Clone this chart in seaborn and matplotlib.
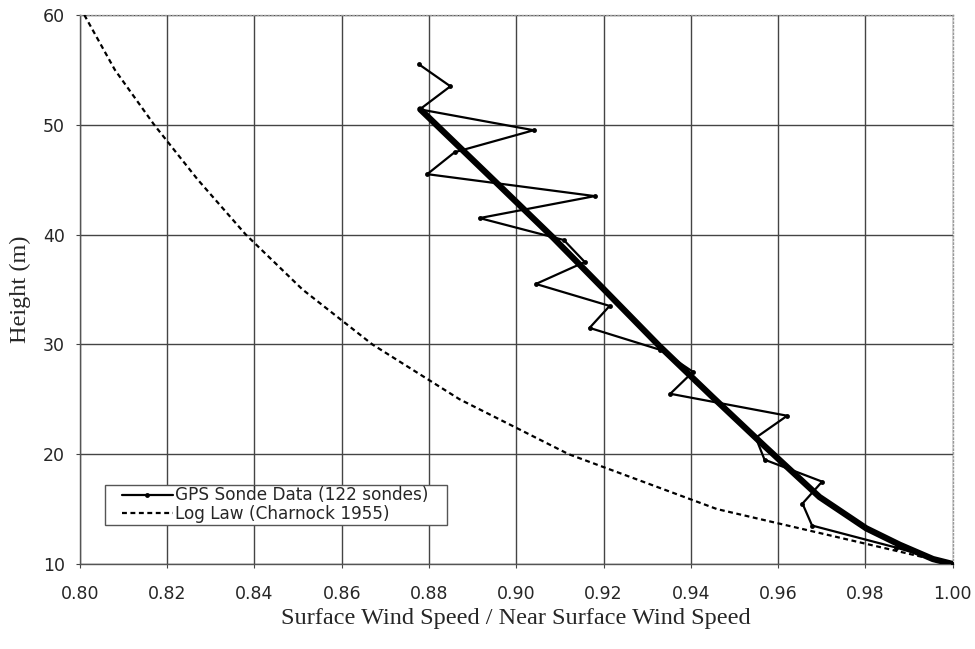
import matplotlib
matplotlib.use("Agg")
import matplotlib.pyplot as plt
from matplotlib.legend_handler import HandlerLine2D
import seaborn as sns
import pandas as pd

# GPS sonde profile (ratio vs height)
sonde_height = [55.5, 53.5, 51.4, 49.5, 47.5, 45.5, 43.5, 41.5, 39.5, 37.5, 35.5, 33.5,
                31.5, 29.5, 27.5, 25.5, 23.5, 21.5, 19.5, 17.5, 15.5, 13.5, 11.5, 10.0]
sonde_ratio = [0.8777, 0.8849, 0.8779, 0.9040, 0.8859, 0.8796, 0.9180, 0.8916, 0.9109, 0.9157,
               0.9045, 0.9214, 0.9168, 0.9330, 0.9405, 0.9353, 0.9621, 0.9549, 0.9569, 0.9701,
               0.9656, 0.9678, 0.9870, 1.0000]

# fitted curve through the sonde data (thick line)
fit_height = [51.4, 44.7, 39.7, 35.25, 29.85, 25.2, 20.7, 16.1, 13.25, 11.75, 10.45, 10.0]
fit_ratio = [0.878, 0.8955, 0.9085, 0.9195, 0.9328, 0.945, 0.957, 0.9695, 0.9802, 0.9879, 0.9955, 1.0]

# log law (Charnock 1955)
log_height = [60, 55, 50, 45, 40, 35, 30, 25, 20, 15, 10]
log_ratio = [0.801, 0.808, 0.817, 0.827, 0.838, 0.851, 0.867, 0.887, 0.912, 0.946, 1.0]

sonde = pd.DataFrame({"ratio": sonde_ratio, "height": sonde_height})
fit = pd.DataFrame({"ratio": fit_ratio, "height": fit_height})
loglaw = pd.DataFrame({"ratio": log_ratio, "height": log_height})


# legend line that starts a little inside the box (as in the original)
class InsetLine(HandlerLine2D):
    def get_xdata(self, legend, xdescent, ydescent, width, height, fontsize):
        pad = 0.92 * fontsize
        x0 = -xdescent + pad
        x1 = -xdescent + width
        return [x0, x1], [0.5 * (x0 + x1)]


sns.set_style("white")
plt.rcParams["font.family"] = ["DejaVu Sans"]

fig = plt.figure(figsize=(9.75, 6.49), dpi=100)
ax = fig.add_axes([0.082, 0.131, 0.895, 0.846])

sns.lineplot(data=fit, x="ratio", y="height", sort=False, estimator=None,
             color="black", linewidth=4.5, solid_capstyle="round", solid_joinstyle="round",
             ax=ax, zorder=3)
sns.lineplot(data=sonde, x="ratio", y="height", sort=False, estimator=None,
             color="black", linewidth=1.6, marker="o", markersize=3.5, markeredgewidth=0,
             label="GPS Sonde Data (122 sondes)", ax=ax, zorder=4)
sns.lineplot(data=loglaw, x="ratio", y="height", sort=False, estimator=None,
             color="black", linewidth=1.6, linestyle=(0, (2.2, 1.6)),
             label="Log Law (Charnock 1955)", ax=ax, zorder=4)

ax.set_xlim(0.80, 1.00)
ax.set_ylim(10, 60)
ax.set_xticks([0.80 + 0.02 * i for i in range(11)])
ax.set_yticks([10, 20, 30, 40, 50, 60])
ax.xaxis.set_major_formatter(matplotlib.ticker.FormatStrFormatter("%.2f"))
ax.grid(True, color="#444444", linewidth=1.0)
ax.tick_params(axis="both", labelsize=12.5, length=3, direction="out", color="#444444",
               bottom=True, left=True)
ax.tick_params(axis="x", pad=12)
ax.tick_params(axis="y", pad=8)

for side in ["left", "bottom"]:
    ax.spines[side].set_color("#555555")
    ax.spines[side].set_linewidth(1.0)
for side in ["top", "right"]:
    ax.spines[side].set_color("#999999")
    ax.spines[side].set_linestyle(":")
    ax.spines[side].set_linewidth(1.0)

ax.set_xlabel("Surface Wind Speed / Near Surface Wind Speed", family="Liberation Serif",
              fontsize=17.5, labelpad=4)
ax.set_ylabel("Height (m)", family="Liberation Serif", fontsize=17.5, labelpad=8)

handles, labels = ax.get_legend_handles_labels()
leg = ax.legend(handles, labels, loc="lower left", mode="expand",
                bbox_to_anchor=(0.0286, 0.071, 0.392, 0.073), fontsize=12.2,
                frameon=True, fancybox=False, edgecolor="#555555", framealpha=1,
                borderpad=0.1, handlelength=3.9, handletextpad=0.12, labelspacing=0.05,
                borderaxespad=0, handler_map={h: InsetLine() for h in handles})
leg.get_frame().set_linewidth(1.0)

fig.savefig("out.png", dpi=100)
